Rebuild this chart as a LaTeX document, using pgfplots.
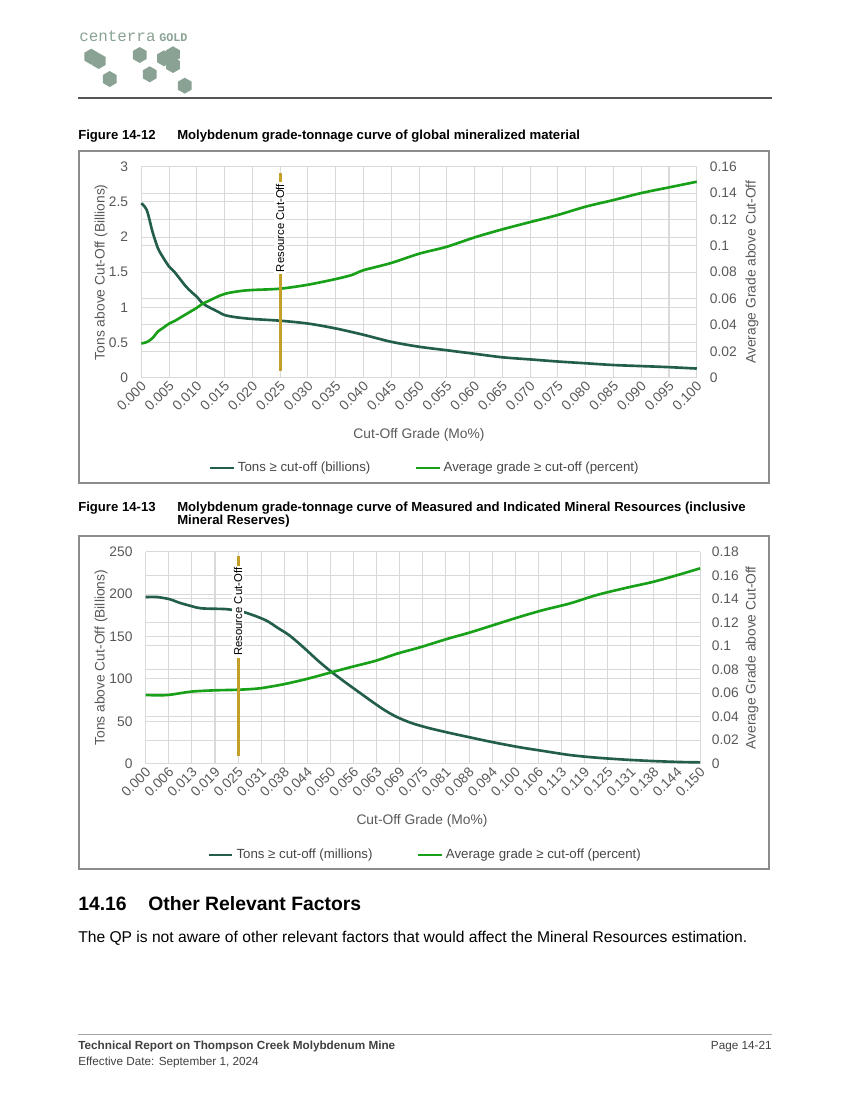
\documentclass[border=0pt]{standalone}
\usepackage{fontspec}
\setmainfont{Liberation Sans}
\setmonofont{Liberation Mono}
\usepackage{pgfplots}
\pgfplotsset{compat=1.18}
\usetikzlibrary{shapes.geometric}

\definecolor{tonsc}{RGB}{34,94,72}
\definecolor{gradec}{RGB}{25,160,25}
\definecolor{goldc}{RGB}{196,160,40}
\definecolor{gridc}{RGB}{217,217,217}
\definecolor{txtgray}{RGB}{89,89,89}
\definecolor{framec}{RGB}{140,140,140}
\definecolor{hexc}{RGB}{138,162,147}
\definecolor{rulec}{RGB}{85,85,85}

\newcommand\tfont{\fontsize{10}{12}\selectfont}

% chart 1 (global mineralized material)
\pgfplotstableread{
x      tons
0.000  2.48
0.001  2.38
0.002  2.08
0.003  1.84
0.004  1.70
0.005  1.58
0.006  1.50
0.007  1.40
0.008  1.30
0.009  1.22
0.010  1.15
0.011  1.06
0.012  1.01
0.013  0.97
0.014  0.93
0.015  0.89
0.017  0.86
0.020  0.835
0.025  0.81
0.030  0.77
0.035  0.70
0.040  0.61
0.045  0.51
0.050  0.44
0.055  0.39
0.060  0.34
0.065  0.29
0.070  0.26
0.075  0.23
0.080  0.205
0.085  0.18
0.090  0.165
0.095  0.15
0.100  0.13
}\tonsA
\pgfplotstableread{
x      grade
0.000  0.026
0.001  0.027
0.002  0.030
0.003  0.035
0.004  0.038
0.005  0.041
0.006  0.043
0.007  0.0455
0.008  0.048
0.009  0.0505
0.010  0.053
0.011  0.056
0.012  0.058
0.013  0.060
0.014  0.062
0.015  0.0635
0.016  0.0645
0.018  0.0658
0.020  0.0665
0.025  0.0675
0.030  0.0705
0.035  0.0748
0.038  0.078
0.040  0.0815
0.045  0.087
0.050  0.094
0.055  0.0993
0.060  0.1064
0.065  0.1125
0.070  0.118
0.075  0.1234
0.080  0.1297
0.085  0.1347
0.090  0.140
0.095  0.1443
0.100  0.1486
}\gradeA

% chart 2 (measured and indicated)
\pgfplotstableread{
x       tons
0.000   196.6
0.003   196.6
0.0065  194
0.009   190
0.0114  187
0.014   184
0.016   183
0.0214  182.4
0.024   181
0.0268  178.5
0.0304  173
0.033   168
0.0358  160
0.039   151
0.043   136
0.0465  122
0.0502  108.5
0.054   96
0.0575  85
0.061   74
0.0647  63
0.068   55
0.0719  48
0.0762  42.5
0.0815  37
0.0878  31
0.0941  25.2
0.1013  19.3
0.1076  15
0.1148  10.2
0.122   7.1
0.1301  4.7
0.1374  3.1
0.1446  2.0
0.150   1.6
}\tonsB
\pgfplotstableread{
x       grade
0.000   0.0583
0.0058  0.0583
0.0123  0.0612
0.0187  0.0623
0.025   0.0628
0.0308  0.064
0.0372  0.0674
0.0435  0.0719
0.0493  0.0768
0.0556  0.0821
0.062   0.0872
0.0683  0.0937
0.0742  0.0988
0.0815  0.1059
0.0878  0.1115
0.0941  0.1177
0.1013  0.1248
0.1076  0.1305
0.1148  0.1361
0.122   0.1432
0.1301  0.1494
0.1374  0.1545
0.1446  0.1608
0.150   0.1659
}\gradeB

\pgfplotsset{
  excel/.style={
    scale only axis,
    axis line style={draw=none},
    tick style={draw=none},
    ticklabel style={font=\tfont, text=txtgray},
    label style={font=\tfont, text=txtgray},
    grid style={gridc, line width=0.75bp},
    clip=false,
  },
  tonsline/.style={tonsc, line width=1.9bp, smooth},
  gradeline/.style={gradec, line width=1.9bp, smooth},
}

\begin{document}
\begin{tikzpicture}
% page pixels: 1px = 0.72085bp, y measured upwards as 1100 - row
\begin{scope}[x=0.72085bp, y=0.72085bp]
\useasboundingbox (0,0) rectangle (849,1100);

% header
\node[anchor=base west, inner sep=0, text=hexc, font=\ttfamily\fontsize{11.5}{12}\selectfont] at (79,1100-41.5) {centerra};
\node[anchor=base west, inner sep=0, text=hexc, font=\ttfamily\bfseries\fontsize{8.5}{9}\selectfont] at (159,1100-41.5) {GOLD};
\foreach \hx/\hy in {91.3/56.7, 98.7/61, 109.7/79, 139.7/55, 149.7/74.3, 173/54.3, 164/58.3, 173/65, 184.7/85.7}
  \node[regular polygon, regular polygon sides=6, shape border rotate=30, minimum size=11.5bp, inner sep=0, fill=hexc] at (\hx,1100-\hy) {};
\draw[rulec, line width=2bp] (78,1100-98) -- (772,1100-98);

% caption 1
\node[anchor=base west, inner sep=0, font=\bfseries\fontsize{9.5}{11}\selectfont] at (78,1100-139.5) {Figure 14-12};
\node[anchor=base west, inner sep=0, font=\bfseries\fontsize{9.5}{11}\selectfont] at (177,1100-139.5) {Molybdenum grade-tonnage curve of global mineralized material};
\draw[framec, line width=0.75bp] (79,1100-151) rectangle (769,1100-483);

% caption 2
\node[anchor=base west, inner sep=0, font=\bfseries\fontsize{9.5}{11}\selectfont] at (78,1100-511.5) {Figure 14-13};
\node[anchor=base west, inner sep=0, font=\bfseries\fontsize{9.5}{11}\selectfont] at (177,1100-511.5) {Molybdenum grade-tonnage curve of Measured and Indicated Mineral Resources (inclusive};
\node[anchor=base west, inner sep=0, font=\bfseries\fontsize{9.5}{11}\selectfont] at (177,1100-525) {Mineral Reserves)};
\draw[framec, line width=0.75bp] (79,1100-536) rectangle (769,1100-869);

% section text
\node[anchor=base west, inner sep=0, font=\bfseries\fontsize{14}{16}\selectfont] at (78,1100-911) {14.16};
\node[anchor=base west, inner sep=0, font=\bfseries\fontsize{14}{16}\selectfont] at (148,1100-911) {Other Relevant Factors};
\node[anchor=base west, inner sep=0, font=\fontsize{11.3}{13}\selectfont] at (78,1100-943) {The QP is not aware of other relevant factors that would affect the Mineral Resources estimation.};

% footer
\draw[gray!70, line width=0.6bp] (78,1100-1034) -- (772,1100-1034);
\node[anchor=base west, inner sep=0, text=black!75, font=\bfseries\fontsize{8.5}{10}\selectfont] at (78,1100-1049.5) {Technical Report on Thompson Creek Molybdenum Mine};
\node[anchor=base east, inner sep=0, text=black!75, font=\fontsize{8.5}{10}\selectfont] at (772,1100-1049.5) {Page 14-21};
\node[anchor=base west, inner sep=0, text=black!75, font=\fontsize{8.5}{10}\selectfont] at (78,1100-1065.5) {Effective Date: September 1, 2024};
\end{scope}

% chart 1, left axis
\begin{axis}[excel,
  at={(101.86bp,520.67bp)}, anchor=south west,
  width=400.4bp, height=152.1bp,
  xmin=0, xmax=0.1, ymin=0, ymax=3,
  xtick={0,0.005,0.01,0.015,0.02,0.025,0.03,0.035,0.04,0.045,0.05,0.055,0.06,0.065,0.07,0.075,0.08,0.085,0.09,0.095,0.1},
  xticklabels={0.000,0.005,0.010,0.015,0.020,0.025,0.030,0.035,0.040,0.045,0.050,0.055,0.060,0.065,0.070,0.075,0.080,0.085,0.090,0.095,0.100},
  xticklabel style={rotate=45, anchor=east, yshift=-4.5bp, xshift=1.5bp},
  ytick={0,0.5,1,1.5,2,2.5,3},
  yticklabels={0,0.5,1,1.5,2,2.5,3},
  yticklabel style={xshift=-6bp},
  extra y ticks={0.375,0.75,1.125,1.875,2.25,2.625},
  extra y tick labels={},
  extra y tick style={grid=major},
  grid=major,
  xlabel={Cut-Off Grade (Mo\%)},
  xlabel style={at={(axis description cs:0.5,-0.2716)}, anchor=center},
  ylabel={Tons above Cut-Off (Billions)},
  ylabel style={at={(axis description cs:-0.0726,0.5)}, anchor=center},
]
\addplot[tonsline] table[x=x, y=tons] {\tonsA};
\end{axis}

% chart 1, right axis
\begin{axis}[excel,
  at={(101.86bp,520.67bp)}, anchor=south west,
  width=400.4bp, height=152.1bp,
  xmin=0, xmax=0.1, ymin=0, ymax=0.16,
  axis x line=none, axis y line*=right,
  axis line style={draw=none},
  ytick={0,0.02,0.04,0.06,0.08,0.1,0.12,0.14,0.16},
  yticklabels={0,0.02,0.04,0.06,0.08,0.1,0.12,0.14,0.16},
  yticklabel style={xshift=6bp},
  ylabel={Average Grade above Cut-Off},
  ylabel style={at={(axis description cs:1.0996,0.5)}, anchor=center, rotate=0},
  legend style={at={(axis description cs:0.511,-0.428)}, anchor=center, draw=none, fill=none,
    font=\fontsize{9.6}{11}\selectfont, text=txtgray!80!black, legend columns=2,
    /tikz/every even column/.append style={column sep=30bp}},
  legend image code/.code={\draw[#1, line width=1.9bp] (0bp,0bp) -- (17bp,0bp);},
]
\addlegendimage{tonsc, line width=1.9bp}
\addlegendentry{Tons ≥ cut-off (billions)}
\addplot[gradeline] table[x=x, y=grade] {\gradeA};
\addlegendentry{Average grade ≥ cut-off (percent)}
\addplot[goldc, line width=2.2bp, forget plot] coordinates {(0.025,0.0053) (0.025,0.1552)};
\node[rotate=90, fill=white, inner sep=1.5bp, font=\fontsize{8.2}{9}\selectfont] at (axis cs:0.025,0.1135) {Resource Cut-Off};
\end{axis}

% chart 2, left axis
\begin{axis}[excel,
  at={(105.03bp,242.42bp)}, anchor=south west,
  width=399.6bp, height=152.8bp,
  xmin=0, xmax=0.15, ymin=0, ymax=250,
  xtick={0,0.00625,0.0125,0.01875,0.025,0.03125,0.0375,0.04375,0.05,0.05625,0.0625,0.06875,0.075,0.08125,0.0875,0.09375,0.1,0.10625,0.1125,0.11875,0.125,0.13125,0.1375,0.14375,0.15},
  xticklabels={0.000,0.006,0.013,0.019,0.025,0.031,0.038,0.044,0.050,0.056,0.063,0.069,0.075,0.081,0.088,0.094,0.100,0.106,0.113,0.119,0.125,0.131,0.138,0.144,0.150},
  xticklabel style={rotate=45, anchor=east, yshift=-4.5bp, xshift=1.5bp},
  ytick={0,50,100,150,200,250},
  yticklabels={0,50,100,150,200,250},
  yticklabel style={xshift=-6bp},
  extra y ticks={27.78,55.56,83.33,111.11,138.89,166.67,194.44,222.22},
  extra y tick labels={},
  extra y tick style={grid=major},
  grid=major,
  xlabel={Cut-Off Grade (Mo\%)},
  xlabel style={at={(axis description cs:0.4985,-0.270)}, anchor=center},
  ylabel={Tons above Cut-Off (Billions)},
  ylabel style={at={(axis description cs:-0.0806,0.5)}, anchor=center},
]
\addplot[tonsline] table[x=x, y=tons] {\tonsB};
\end{axis}

% chart 2, right axis
\begin{axis}[excel,
  at={(105.03bp,242.42bp)}, anchor=south west,
  width=399.6bp, height=152.8bp,
  xmin=0, xmax=0.15, ymin=0, ymax=0.18,
  axis x line=none, axis y line*=right,
  axis line style={draw=none},
  ytick={0,0.02,0.04,0.06,0.08,0.1,0.12,0.14,0.16,0.18},
  yticklabels={0,0.02,0.04,0.06,0.08,0.1,0.12,0.14,0.16,0.18},
  yticklabel style={xshift=5bp},
  ylabel={Average Grade above Cut-Off},
  ylabel style={at={(axis description cs:1.0938,0.5)}, anchor=center, rotate=0},
  legend style={at={(axis description cs:0.5048,-0.4307)}, anchor=center, draw=none, fill=none,
    font=\fontsize{9.6}{11}\selectfont, text=txtgray!80!black, legend columns=2,
    /tikz/every even column/.append style={column sep=30bp}},
  legend image code/.code={\draw[#1, line width=1.9bp] (0bp,0bp) -- (17bp,0bp);},
]
\addlegendimage{tonsc, line width=1.9bp}
\addlegendentry{Tons ≥ cut-off (millions)}
\addplot[gradeline] table[x=x, y=grade] {\gradeB};
\addlegendentry{Average grade ≥ cut-off (percent)}
\addplot[goldc, line width=2.2bp, forget plot] coordinates {(0.025,0.0065) (0.025,0.1764)};
\node[rotate=90, fill=white, inner sep=1.5bp, font=\fontsize{8.2}{9}\selectfont] at (axis cs:0.025,0.129) {Resource Cut-Off};
\end{axis}
\end{tikzpicture}
\end{document}
